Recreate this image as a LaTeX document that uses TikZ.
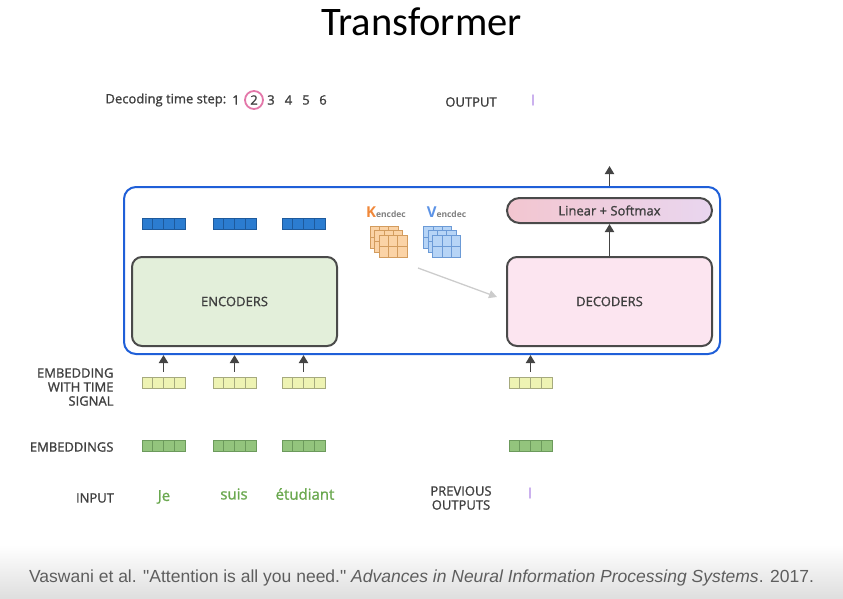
\documentclass[tikz,border=0pt]{standalone}
\usepackage{fontspec}
\setmainfont{Open Sans}[UprightFeatures={FakeBold=1.2}]
\newfontfamily\titlefont{Carlito}
\newfontfamily\citefont{Liberation Sans}
\usetikzlibrary{arrows.meta,calc}

\definecolor{txtgray}{HTML}{3F3F3F}
\definecolor{boxblue}{HTML}{1F5FD8}
\definecolor{boxline}{HTML}{4A4A4A}
\definecolor{encfill}{HTML}{E3EFDA}
\definecolor{decfill}{HTML}{FCE5F0}
\definecolor{linleft}{HTML}{F3C6D0}
\definecolor{linright}{HTML}{E9D6EF}
\definecolor{vecblue}{HTML}{2B7CD0}
\definecolor{vecblueline}{HTML}{1E5A9C}
\definecolor{sigfill}{HTML}{EEF3B3}
\definecolor{sigline}{HTML}{A6AA7E}
\definecolor{embfill}{HTML}{93C47D}
\definecolor{embline}{HTML}{6C9A5C}
\definecolor{wordgreen}{HTML}{6AA84F}
\definecolor{outpurple}{HTML}{B48EE6}
\definecolor{stepring}{HTML}{E377A9}
\definecolor{kfill}{HTML}{FBD3A6}
\definecolor{kline}{HTML}{D39C5E}
\definecolor{korange}{HTML}{F0883A}
\definecolor{vfill}{HTML}{B6D4F6}
\definecolor{vline}{HTML}{6B9AD6}
\definecolor{vblue}{HTML}{5C93E6}
\definecolor{arrgray}{HTML}{444444}
\definecolor{kvarrow}{HTML}{CCCCCC}
\definecolor{bandgray}{HTML}{DEDEDE}
\definecolor{citegray}{HTML}{5E5E5E}

\begin{document}
\begin{tikzpicture}[x=1pt,y=-1pt,
	every node/.style={font=\fontsize{13}{14}\selectfont, text=txtgray},
	cells/.style={path picture={\foreach \k in {1,2,3}
		\draw[#1,line width=0.8pt] ($(path picture bounding box.south west)!\k/4!(path picture bounding box.south east)$)
			-- ($(path picture bounding box.north west)!\k/4!(path picture bounding box.north east)$);}},
	vec/.style={minimum width=43pt, minimum height=11pt, inner sep=0pt, line width=0.8pt},
	encvec/.style={vec, fill=vecblue, draw=vecblueline, cells=vecblueline},
	sigvec/.style={vec, fill=sigfill, draw=sigline, cells=sigline},
	embvec/.style={vec, fill=embfill, draw=embline, cells=embline},
	bigbox/.style={draw=boxline, line width=2pt, rounded corners=10pt, minimum width=205pt, minimum height=89pt, inner sep=0pt},
	word/.style={font=\fontsize{15}{16}\selectfont, text=wordgreen},
	arr/.style={-{Triangle[length=8pt,width=9pt]}, line width=1.8pt, draw=arrgray}]

	\useasboundingbox (0,0) rectangle (843,599);
	\shade[top color=white, bottom color=bandgray] (0,545) rectangle (843,599);

	% title and time steps
	\node (title) at (421.5,22) {\titlefont\fontsize{40.5}{41}\selectfont\color{black}Transformer};
	\node [anchor=west] (steplbl) at (102,100) {Decoding time step:};
	\node (s1) at (236,100) {1};
	\node [circle, draw=stepring, line width=1.8pt, inner sep=0pt, minimum size=18pt] (s2) at (254,100) {2};
	\node (s3) at (271,100) {3};
	\node (s4) at (288.5,100) {4};
	\node (s5) at (306,100) {5};
	\node (s6) at (323,100) {6};
	\node (outlbl) at (471,102) {OUTPUT};
	\node [word, text=outpurple] (outword) at (533,100) {I};

	% encoder-decoder stack
	\node [draw=boxblue, line width=2pt, rounded corners=12pt, minimum width=596pt, minimum height=167pt, inner sep=0pt] (stack) at (422,270.5) {};
	\node [bigbox, fill=encfill] (encoders) at (234.5,301.5) {ENCODERS};
	\node [bigbox, fill=decfill] (decoders) at (609.5,301.5) {DECODERS};
	\node [draw=boxline, line width=2pt, rounded corners=12.5pt, left color=linleft, right color=linright, minimum width=205pt, minimum height=25pt, inner sep=0pt] (linear) at (609.5,210.5) {Linear + Softmax};
	\coordinate (top) at (609.5,166);
	\draw [arr] (decoders.north) -- (linear.south);
	\draw [arr] (linear.north |- stack.north) -- (top);

	\node [encvec] (enc1) at (163.5,224) {};
	\node [encvec] (enc2) at (234.5,224) {};
	\node [encvec] (enc3) at (303.5,224) {};

	% K and V from the last encoder
	\node (klbl) at (386,212) {\textcolor{korange}{\fontsize{15}{15}\selectfont\bfseries K}{\fontsize{8.5}{9}\selectfont\color{gray}\bfseries encdec}};
	\node (vlbl) at (446.5,212) {\textcolor{vblue}{\fontsize{15}{15}\selectfont\bfseries V}{\fontsize{8.5}{9}\selectfont\color{gray}\bfseries encdec}};
	\foreach \sx/\fc/\lc in {370/kfill/kline, 423.5/vfill/vline}
		\foreach \d in {0,4.5,9} {
			\draw [draw=\lc, fill=\fc, line width=0.6pt] (\sx+\d,226+\d) rectangle ++(28,22);
			\draw [draw=\lc, line width=0.6pt] (\sx+\d+9.33,226+\d) -- ++(0,22)
				(\sx+\d+18.67,226+\d) -- ++(0,22) (\sx+\d,237+\d) -- ++(28,0);
		}
	\coordinate (kvout) at (418,268);
	\coordinate (decin) at (497,297);
	\draw [-{Triangle[length=8pt,width=8pt]}, line width=1.3pt, draw=kvarrow] (kvout) -- (decin);

	% inputs
	\node [sigvec] (sig1) at (163.5,382.5) {};
	\node [sigvec] (sig2) at (234.5,382.5) {};
	\node [sigvec] (sig3) at (303.5,382.5) {};
	\node [sigvec] (sigd) at (530.5,382.5) {};
	\foreach \n in {sig1,sig2,sig3,sigd}
		\draw [arr] ([yshift=5pt]\n.north) -- (\n.north |- stack.south);
	\node [embvec] (emb1) at (163.5,446) {};
	\node [embvec] (emb2) at (234.5,446) {};
	\node [embvec] (emb3) at (303.5,446) {};
	\node [embvec] (embd) at (530.5,446) {};

	\node [anchor=east, align=right] (siglbl) at (117,387) {EMBEDDING\\WITH TIME\\SIGNAL};
	\node [anchor=east] (emblbl) at (117,447) {EMBEDDINGS};
	\node (inlbl) at (95,498) {INPUT};
	\node [word] (w1) at (164,497) {Je};
	\node [word] (w2) at (234,494) {suis};
	\node [word] (w3) at (305,494) {étudiant};
	\node [align=center] (prevlbl) at (461,498) {PREVIOUS\\OUTPUTS};
	\node [word, text=outpurple] (prevword) at (530,493) {I};

	\node (cite) at (421.5,578) {\citefont\fontsize{17.5}{20}\selectfont\color{citegray}Vaswani et al. "Attention is all you need." \textit{Advances in Neural Information Processing Systems}. 2017.};
\end{tikzpicture}
\end{document}
